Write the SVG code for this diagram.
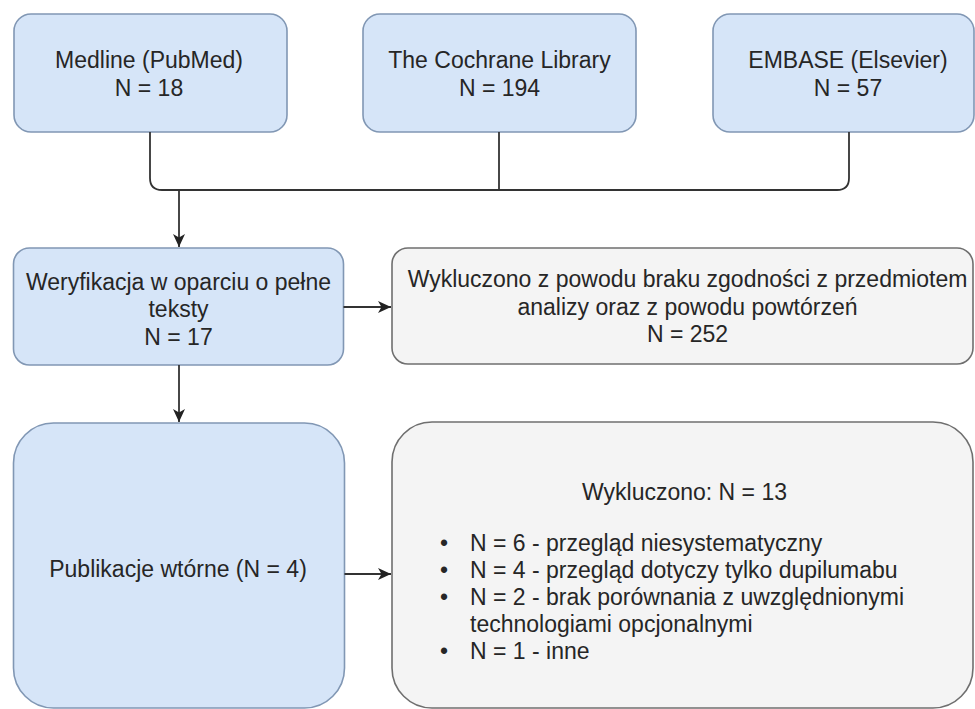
<svg xmlns="http://www.w3.org/2000/svg" width="975" height="709" viewBox="0 0 975 709">
<style>
  .blue { fill: #d6e5f8; stroke: #8197b4; stroke-width: 1.6; }
  .gray { fill: #f4f4f4; stroke: #6f6f6f; stroke-width: 1.6; }
  text { font-family: "Liberation Sans", Arial, sans-serif; font-size: 23px; fill: #262626; }
  .c { text-anchor: middle; }
  .edge { fill: none; stroke: #333333; stroke-width: 1.8; }
</style>
<defs>
  <marker id="arrow" markerUnits="userSpaceOnUse" markerWidth="14" markerHeight="14" refX="13" refY="7" orient="auto">
    <path d="M0,1 L13,7 L0,13 L3.5,7 z" fill="#222222"/>
  </marker>
</defs>
<rect width="975" height="709" fill="#ffffff"/>

<g id="medline">
  <rect class="blue" x="14" y="14" width="273" height="118" rx="17"/>
  <text class="c" x="149" y="67.5">Medline (PubMed)</text>
  <text class="c" x="149" y="95.5">N = 18</text>
</g>
<g id="cochrane">
  <rect class="blue" x="363" y="14" width="273" height="118" rx="17"/>
  <text class="c" x="499.5" y="67.5">The Cochrane Library</text>
  <text class="c" x="499.5" y="95.5">N = 194</text>
</g>
<g id="embase">
  <rect class="blue" x="713" y="14" width="261" height="118" rx="17"/>
  <text class="c" x="848" y="67.5">EMBASE (Elsevier)</text>
  <text class="c" x="848" y="95.5">N = 57</text>
</g>
<g id="weryfikacja">
  <rect class="blue" x="13.5" y="248" width="330" height="117" rx="16"/>
  <text class="c" x="178.5" y="289.5">Weryfikacja w oparciu o pełne</text>
  <text class="c" x="178.5" y="317">teksty</text>
  <text class="c" x="178.5" y="344.5">N = 17</text>
</g>
<g id="wykluczono1">
  <rect class="gray" x="392" y="248" width="581" height="116" rx="16"/>
  <text class="c" x="687.5" y="287">Wykluczono z powodu braku zgodności z przedmiotem</text>
  <text class="c" x="687.5" y="314.5">analizy oraz z powodu powtórzeń</text>
  <text class="c" x="687.5" y="342">N = 252</text>
</g>
<g id="publikacje">
  <rect class="blue" x="13.5" y="423" width="331" height="285" rx="40"/>
  <text class="c" x="178" y="577">Publikacje wtórne (N = 4)</text>
</g>
<g id="wykluczono2">
  <rect class="gray" x="392" y="422" width="581" height="286" rx="40"/>
  <text class="c" x="684.5" y="500">Wykluczono: N = 13</text>
  <text x="440" y="551">•</text><text x="470" y="551">N = 6 - przegląd niesystematyczny</text>
  <text x="440" y="578">•</text><text x="470" y="578">N = 4 - przegląd dotyczy tylko dupilumabu</text>
  <text x="440" y="605">•</text><text x="470" y="605">N = 2 - brak porównania z uwzględnionymi</text>
  <text x="470" y="632">technologiami opcjonalnymi</text>
  <text x="440" y="659">•</text><text x="470" y="659">N = 1 - inne</text>
</g>

<g id="connectors">
  <path class="edge" d="M150,132 V178 Q150,190 162,190 H837 Q849,190 849,178 V132"/>
  <path class="edge" d="M499,132 V190"/>
  <path class="edge" d="M179,190 V247" marker-end="url(#arrow)"/>
  <path class="edge" d="M343.5,307 H391" marker-end="url(#arrow)"/>
  <path class="edge" d="M179,365 V422" marker-end="url(#arrow)"/>
  <path class="edge" d="M344.5,574 H391" marker-end="url(#arrow)"/>
</g>
</svg>
